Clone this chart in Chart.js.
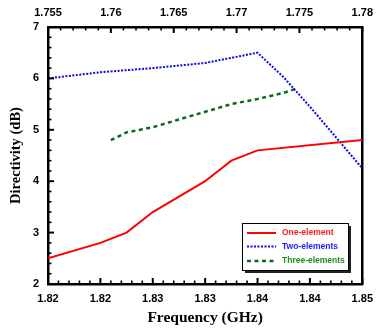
<!DOCTYPE html>
<html>
<head>
<meta charset="utf-8">
<script src="https://cdn.jsdelivr.net/npm/chart.js@4.4.1/dist/chart.umd.min.js"></script>
<style>
html,body{margin:0;padding:0;background:#fff;}
#c{display:block;}
</style>
</head>
<body>
<canvas id="c" width="381" height="329"></canvas>
<script>
// ---- data ----
const bottomTickLabels = ["1.82","1.82","1.83","1.83","1.84","1.84","1.85"];
const topTickLabels = ["1.755","1.76","1.765","1.77","1.775","1.78"];
const yTickLabels = ["2","3","4","5","6","7"];

const oneX = [1.82, 1.825, 1.8275, 1.83, 1.835, 1.8375, 1.84, 1.85];
const oneY = [2.5, 2.8, 3.0, 3.4, 4.0, 4.4, 4.6, 4.8];

const twoX = [1.82, 1.825, 1.83, 1.835, 1.84, 1.8425, 1.845, 1.8475, 1.85];
const twoY = [6.0, 6.12, 6.2, 6.3, 6.5, 6.02, 5.45, 4.85, 4.25];

const threeX = [1.826, 1.8275, 1.83, 1.8325, 1.835, 1.8375, 1.84, 1.8425, 1.8437];
const threeY = [4.8, 4.95, 5.05, 5.2, 5.35, 5.5, 5.6, 5.72, 5.8];

const seriesNames = ["One-element", "Two-elements", "Three-elements"];

const pts = (xs, ys) => xs.map((x, i) => ({x: x, y: ys[i]}));

const tickFont = {family: "'Liberation Sans', Arial, sans-serif", size: 11, weight: 'bold'};
const titleFamily = "'Liberation Serif', 'Times New Roman', serif";

const innerTicks = {
  id: 'innerTicks',
  afterDraw(chart) {
    const ctx = chart.ctx;
    const a = chart.chartArea;
    ctx.save();
    ctx.strokeStyle = '#000';
    const drawAxis = (scale, side) => {
      const ticks = scale.ticks.map(t => t.value);
      const step = ticks[1] - ticks[0];
      for (let i = 0; i < ticks.length; i++) {
        for (let k = 0; k < 5; k++) {
          const v = ticks[i] + k * step / 5;
          if (v > scale.max + 1e-9) break;
          const p = scale.getPixelForValue(v);
          const len = k === 0 ? 6 : 3.5;
          ctx.lineWidth = k === 0 ? 2 : 1.6;
          ctx.beginPath();
          if (side === 'bottom') { ctx.moveTo(p, a.bottom); ctx.lineTo(p, a.bottom - len); }
          else if (side === 'top') { ctx.moveTo(p, a.top); ctx.lineTo(p, a.top + len); }
          else { ctx.moveTo(a.left, p); ctx.lineTo(a.left + len, p); }
          ctx.stroke();
        }
      }
    };
    drawAxis(chart.scales.x, 'bottom');
    drawAxis(chart.scales.x2, 'top');
    drawAxis(chart.scales.y, 'left');
    ctx.restore();
  }
};

const boxLegend = {
  id: 'boxLegend',
  afterDraw(chart) {
    const ctx = chart.ctx;
    const x0 = 242, y0 = 223, w = 106, h = 47;
    ctx.save();
    ctx.fillStyle = '#222';
    ctx.fillRect(x0 + 3, y0 + 3, w, h);
    ctx.fillStyle = '#fff';
    ctx.fillRect(x0, y0, w, h);
    ctx.strokeStyle = '#000';
    ctx.lineWidth = 1;
    ctx.strokeRect(x0 + 0.5, y0 + 0.5, w, h);
    const rows = [233, 246.5, 261];
    const textColors = ['#ff2020', '#2020ff', '#1e8c1e'];
    chart.data.datasets.forEach((ds, i) => {
      const yy = rows[i];
      ctx.strokeStyle = ds.borderColor;
      ctx.lineWidth = ds.borderWidth;
      ctx.setLineDash(ds.borderDash || []);
      ctx.beginPath();
      ctx.moveTo(247, yy);
      ctx.lineTo(276, yy);
      ctx.stroke();
      ctx.setLineDash([]);
      ctx.fillStyle = textColors[i];
      ctx.font = "bold 8.5px 'Liberation Sans', Arial, sans-serif";
      ctx.textBaseline = 'middle';
      ctx.textAlign = 'left';
      ctx.fillText(ds.label, 282, yy);
    });
    ctx.restore();
  }
};

new Chart(document.getElementById('c'), {
  type: 'line',
  data: {
    datasets: [
      {label: seriesNames[0], data: pts(oneX, oneY), borderColor: '#ff0000', borderWidth: 2, pointRadius: 0, tension: 0, fill: false},
      {label: seriesNames[1], data: pts(twoX, twoY), borderColor: '#0a0ae6', borderWidth: 2, borderDash: [2, 1.5], pointRadius: 0, tension: 0, fill: false},
      {label: seriesNames[2], data: pts(threeX, threeY), borderColor: '#0b6a22', borderWidth: 2.5, borderDash: [4, 3.5], pointRadius: 0, tension: 0, fill: false}
    ]
  },
  options: {
    responsive: false,
    animation: false,
    layout: {padding: 0},
    plugins: {legend: {display: false}, tooltip: {enabled: false}},
    scales: {
      x: {
        type: 'linear', position: 'bottom', min: 1.82, max: 1.85,
        afterFit(s) { s.height = 45; },
        grid: {drawOnChartArea: false, drawTicks: false},
        border: {display: true, color: '#000', width: 2.5},
        ticks: {stepSize: 0.005, padding: 8, color: '#000', font: tickFont, maxRotation: 0, autoSkip: false,
          callback: (v, i) => bottomTickLabels[i]},
        title: {display: true, text: 'Frequency (GHz)', color: '#000', font: {family: titleFamily, size: 15.5, weight: 'bold'}, padding: {top: 0, bottom: 2}}
      },
      x2: {
        type: 'linear', position: 'top', min: 1.755, max: 1.78,
        afterFit(s) { s.height = 27; },
        grid: {drawOnChartArea: false, drawTicks: false},
        border: {display: true, color: '#000', width: 2.5},
        ticks: {stepSize: 0.005, padding: 7, color: '#000', font: tickFont, maxRotation: 0, autoSkip: false,
          callback: (v, i) => topTickLabels[i]}
      },
      y: {
        type: 'linear', position: 'left', min: 2, max: 7,
        afterFit(s) { s.width = 48; },
        grid: {drawOnChartArea: false, drawTicks: false},
        border: {display: true, color: '#000', width: 2.5},
        ticks: {stepSize: 1, padding: 9, color: '#000', font: tickFont,
          callback: (v, i) => yTickLabels[i]},
        title: {display: true, text: 'Directivity (dB)', color: '#000', font: {family: titleFamily, size: 14.5, weight: 'bold'}, padding: {top: 8, bottom: 0}}
      },
      yR: {
        type: 'linear', position: 'right', min: 2, max: 7,
        afterFit(s) { s.width = 13; },
        grid: {drawOnChartArea: false, drawTicks: false},
        border: {display: true, color: '#000', width: 2.5},
        ticks: {display: false}
      }
    }
  },
  plugins: [innerTicks, boxLegend]
});
</script>
</body>
</html>
